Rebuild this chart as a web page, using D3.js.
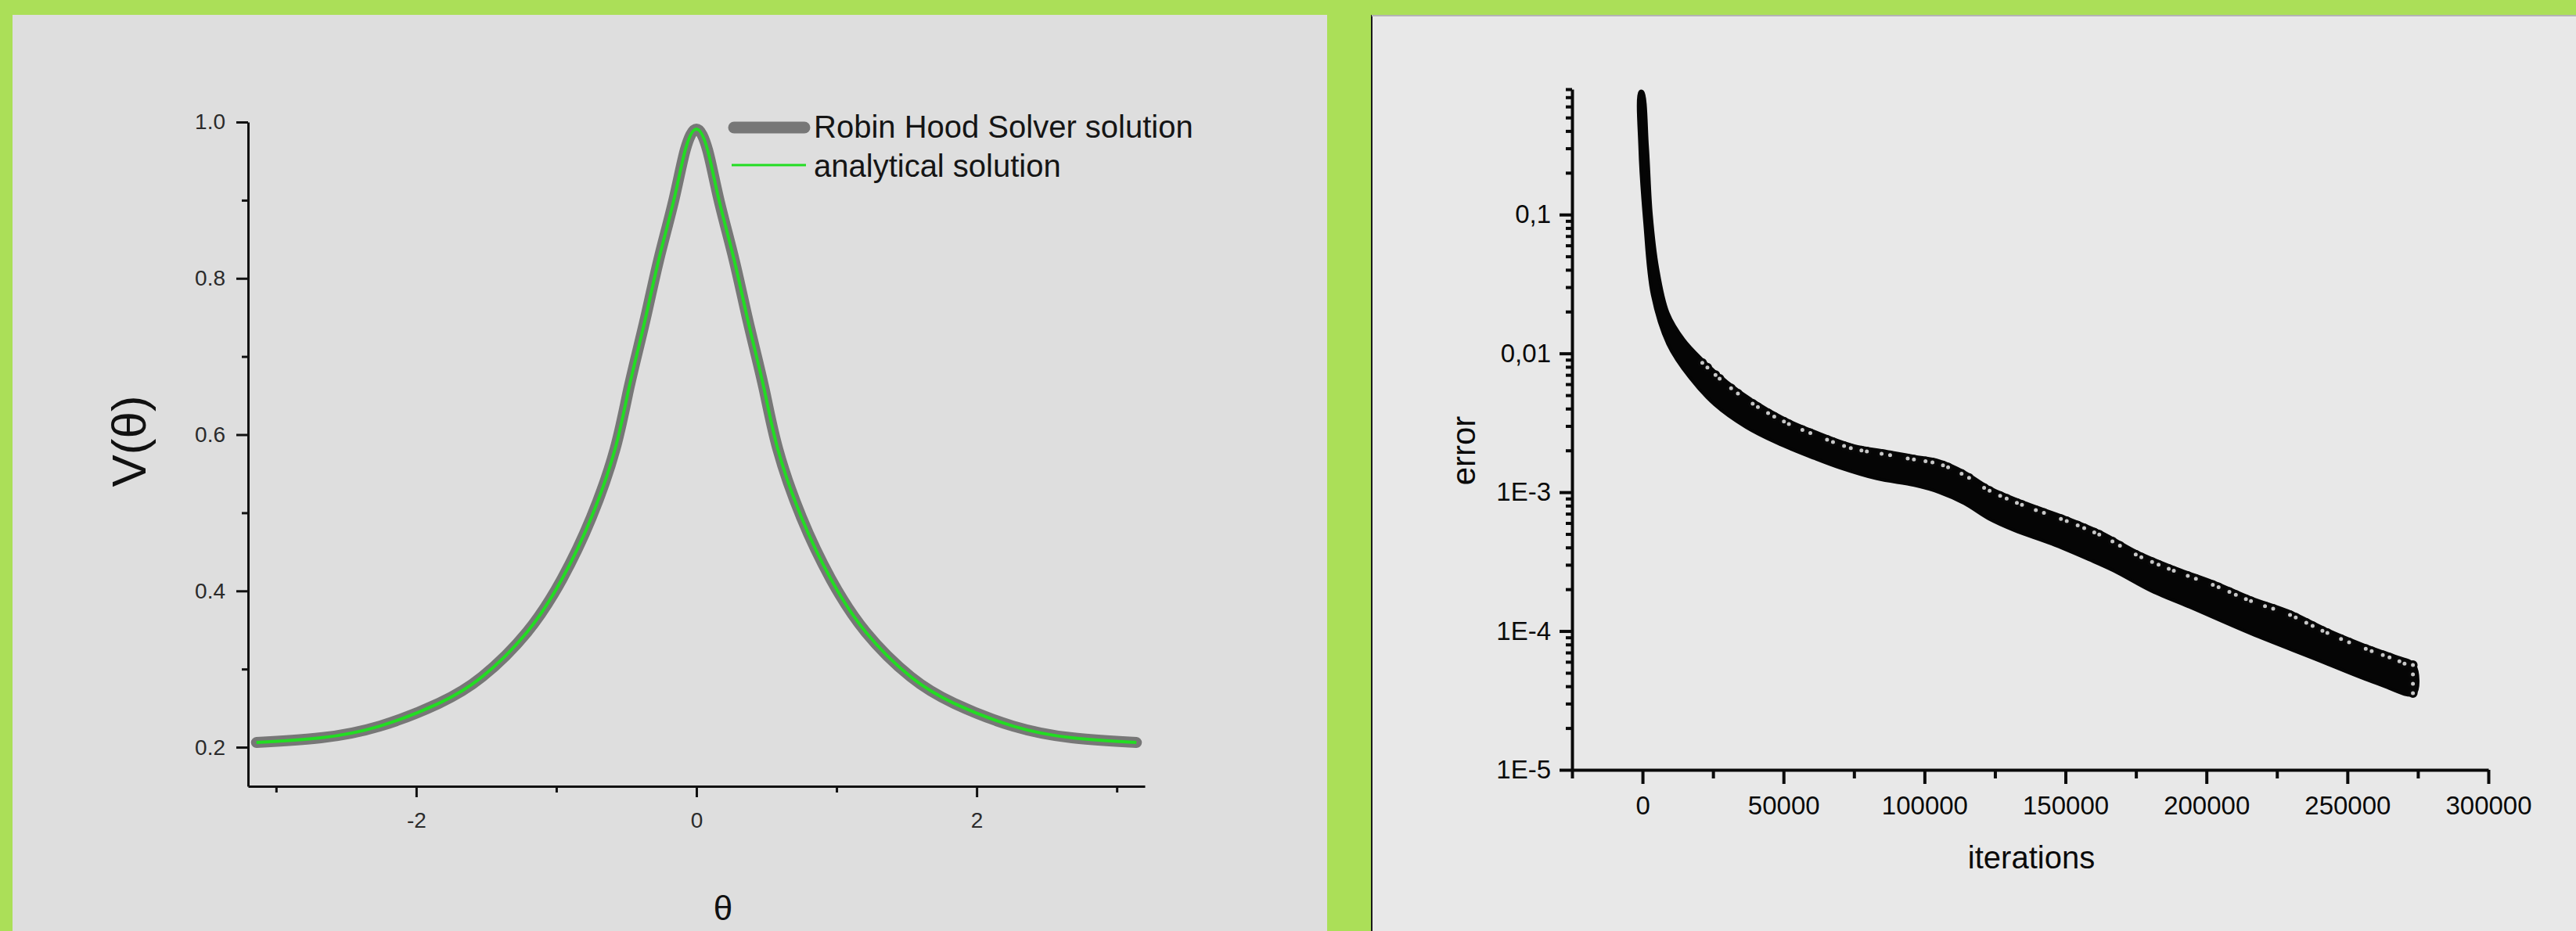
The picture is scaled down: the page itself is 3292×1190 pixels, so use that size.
<!DOCTYPE html>
<html>
<head>
<meta charset="utf-8">
<script src="https://d3js.org/d3.v7.min.js"></script>
<style>
  body { margin: 0; background: #abdf58; }
  svg { display: block; font-family: "Liberation Sans", Arial, sans-serif; }
  .ax-l path, .ax-l line { stroke: #111; stroke-width: 3; }
  .ax-l text { fill: #2b2b2b; font-size: 28px; }
  .ax-r path, .ax-r line { stroke: #0a0a0a; stroke-width: 4; }
  .ax-r text { fill: #0a0a0a; font-size: 33px; }
  .minor path { display: none; }
</style>
</head>
<body>
<script>
// ---- left panel: V(theta) ----
var thetaVals = [-3.14, -2.68, -2.26, -1.84, -1.53, -1.21, -0.96, -0.75, -0.58, -0.48, -0.37, -0.27, -0.16, -0.08,
                 0, 0.08, 0.16, 0.27, 0.37, 0.48, 0.58, 0.75, 0.96, 1.21, 1.53, 1.84, 2.26, 2.68, 3.14];
var solverV = [0.206, 0.212, 0.227, 0.256, 0.290, 0.347, 0.415, 0.494, 0.582, 0.661, 0.744, 0.823, 0.901, 0.964,
               0.991, 0.964, 0.901, 0.823, 0.744, 0.661, 0.582, 0.494, 0.415, 0.347, 0.290, 0.256, 0.227, 0.212, 0.206];
var analyticV = [0.206, 0.212, 0.227, 0.256, 0.290, 0.347, 0.415, 0.494, 0.582, 0.661, 0.744, 0.823, 0.901, 0.964,
                 0.991, 0.964, 0.901, 0.823, 0.744, 0.661, 0.582, 0.494, 0.415, 0.347, 0.290, 0.256, 0.227, 0.212, 0.206];
var thetaMajor = [-2, 0, 2];
var thetaMinor = [-3, -1, 1, 3];
var vMajor = [0.2, 0.4, 0.6, 0.8, 1.0];
var vMinor = [0.3, 0.5, 0.7, 0.9];
var legendNames = ["Robin Hood Solver solution", "analytical solution"];

// ---- right panel: error vs iterations (edges of the point cloud) ----
var iterUpper = [0, 1700, 3050, 5300, 9000, 14600, 21200, 30100, 38900, 50000, 61000, 74300, 87500, 96400,
                 105200, 114100, 123000, 136200, 149500, 162800, 176000, 189300, 202600, 215800, 229100,
                 242400, 255700, 266700, 273800];
var errUpper = [0.766, 0.309, 0.101, 0.0413, 0.0196, 0.01257, 0.0090, 0.0062, 0.0046, 0.00341, 0.00273,
                0.00218, 0.00195, 0.00181, 0.00168, 0.00140, 0.00108, 0.00083, 0.000664, 0.000512, 0.000366,
                0.000282, 0.000225, 0.000173, 0.000139, 0.000103, 0.0000795, 0.0000659, 0.0000569];
var iterLower = [-900, -900, 830, 3500, 9000, 16800, 25600, 36700, 47700, 61000, 69900, 83100, 96400, 105200,
                 114100, 123000, 131800, 145100, 158300, 167200, 180500, 193700, 215800, 238000, 260100, 273800];
var errLower = [0.766, 0.30, 0.087, 0.0265, 0.01167, 0.00667, 0.00427, 0.00294, 0.00226, 0.00175, 0.00150,
                0.00125, 0.00112, 0.000998, 0.00083, 0.00064, 0.000531, 0.000424, 0.000327, 0.000271,
                0.000194, 0.0001497, 0.0000957, 0.0000635, 0.0000422, 0.0000351];
var iterMajor = [0, 50000, 100000, 150000, 200000, 250000, 300000];
var iterMinor = [-25000, 25000, 75000, 125000, 175000, 225000, 275000];
var errMajor = [0.1, 0.01, 1e-3, 1e-4, 1e-5];
var errMajorLabels = ["0,1", "0,01", "1E-3", "1E-4", "1E-5"];

var W = 3292, H = 1190;
var svg = d3.select("body").append("svg").attr("width", W).attr("height", H);

// panels
svg.append("rect").attr("x", 16).attr("y", 19).attr("width", 1680).attr("height", H - 19).attr("fill", "#dedede");
svg.append("rect").attr("x", 1752).attr("y", 19).attr("width", W - 1752).attr("height", H - 19).attr("fill", "#e8e8e8");
svg.append("line").attr("x1", 1753).attr("x2", 1753).attr("y1", 19).attr("y2", H).attr("stroke", "#1a1a1a").attr("stroke-width", 2);
svg.append("line").attr("x1", 1753).attr("x2", W).attr("y1", 20).attr("y2", 20).attr("stroke", "#b4b4b4").attr("stroke-width", 2);

/* left chart */
var xL = d3.scaleLinear().domain([-3.2, 3.2]).range([317, 1463]);
var yL = d3.scaleLinear().domain([0.15, 1.0]).range([1005, 156]);

var gl = svg.append("g");
gl.append("g").attr("class", "ax-l").attr("transform", "translate(0," + yL.range()[0] + ")")
  .call(d3.axisBottom(xL).tickValues(thetaMajor).tickSize(14).tickSizeOuter(0).tickPadding(19).tickFormat(function (d) { return String(d); }));
gl.append("g").attr("class", "ax-l minor").attr("transform", "translate(0," + yL.range()[0] + ")")
  .call(d3.axisBottom(xL).tickValues(thetaMinor).tickSize(8).tickFormat(""));
gl.append("g").attr("class", "ax-l").attr("transform", "translate(" + xL.range()[0] + ",0)")
  .call(d3.axisLeft(yL).tickValues(vMajor).tickSize(15).tickSizeOuter(0).tickPadding(14).tickFormat(d3.format(".1f")));
gl.append("g").attr("class", "ax-l minor").attr("transform", "translate(" + xL.range()[0] + ",0)")
  .call(d3.axisLeft(yL).tickValues(vMinor).tickSize(8).tickFormat(""));

var lineL = d3.line().curve(d3.curveNatural)
  .x(function (d) { return xL(d[0]); }).y(function (d) { return yL(d[1]); });
gl.append("path").datum(d3.zip(thetaVals, solverV)).attr("d", lineL)
  .attr("fill", "none").attr("stroke", "#777").attr("stroke-width", 14).attr("stroke-linecap", "round").attr("stroke-linejoin", "round");
gl.append("path").datum(d3.zip(thetaVals, analyticV)).attr("d", lineL)
  .attr("fill", "none").attr("stroke", "#22dd22").attr("stroke-width", 4);

// legend
var lg = gl.append("g").attr("transform", "translate(930,0)");
lg.append("line").attr("x1", 8).attr("x2", 98).attr("y1", 163).attr("y2", 163)
  .attr("stroke", "#777").attr("stroke-width", 15).attr("stroke-linecap", "round");
lg.append("line").attr("x1", 5).attr("x2", 100).attr("y1", 211).attr("y2", 211)
  .attr("stroke", "#22dd22").attr("stroke-width", 3);
lg.selectAll("text.leg").data(legendNames).enter().append("text").attr("class", "leg")
  .attr("x", 110).attr("y", function (d, i) { return 176 + i * 50; })
  .attr("font-size", 40).attr("fill", "#151515").text(function (d) { return d; });

gl.append("text").attr("transform", "translate(186,564) rotate(-90)").attr("text-anchor", "middle")
  .attr("font-size", 62).attr("fill", "#111").text("V(θ)");
gl.append("text").attr("x", 924).attr("y", 1176).attr("text-anchor", "middle")
  .attr("font-size", 44).attr("fill", "#111").text("θ");

/* right chart */
var xR = d3.scaleLinear().domain([-25000, 300000]).range([2009, 3180]);
var yR = d3.scaleLog().domain([1e-5, 0.8]).range([984, 114]);

var errMinor = [];
[1e-5, 1e-4, 1e-3, 1e-2, 1e-1].forEach(function (p) {
  for (var k = 2; k <= 9; k++) { if (k * p <= 0.8 + 1e-9) errMinor.push(k * p); }
});

var gr = svg.append("g");
gr.append("g").attr("class", "ax-r").attr("transform", "translate(0," + yR.range()[0] + ")")
  .call(d3.axisBottom(xR).tickValues(iterMajor).tickSize(18).tickSizeOuter(0).tickPadding(16).tickFormat(d3.format("d")));
gr.append("g").attr("class", "ax-r minor").attr("transform", "translate(0," + yR.range()[0] + ")")
  .call(d3.axisBottom(xR).tickValues(iterMinor).tickSize(11).tickFormat(""));
gr.append("g").attr("class", "ax-r").attr("transform", "translate(" + xR.range()[0] + ",0)")
  .call(d3.axisLeft(yR).tickValues(errMajor).tickSize(16).tickSizeOuter(0).tickPadding(11)
    .tickFormat(function (d, i) { return errMajorLabels[i]; }));
gr.append("g").attr("class", "ax-r minor").attr("transform", "translate(" + xR.range()[0] + ",0)")
  .call(d3.axisLeft(yR).tickValues(errMinor).tickSize(8).tickFormat(""));
gr.selectAll(".ax-r line").attr("stroke-width", 3);

// point cloud envelope
var upper = d3.zip(iterUpper, errUpper);
var lower = d3.zip(iterLower, errLower);
var cloud = upper.concat(lower.slice().reverse());
gr.append("path").datum(cloud)
  .attr("d", d3.line().curve(d3.curveCatmullRomClosed.alpha(0.5))
    .x(function (d) { return xR(d[0]); }).y(function (d) { return yR(d[1]); }))
  .attr("fill", "#050505").attr("stroke", "#050505").attr("stroke-width", 4).attr("stroke-linejoin", "round");

// open-circle markers along the top edge and the last column
var edgeLine = d3.line().curve(d3.curveCatmullRom.alpha(0.5))
  .x(function (d) { return xR(d[0]); }).y(function (d) { return yR(d[1]); });
var topEdge = upper.slice(6);
var endCol = [upper[upper.length - 1], lower[lower.length - 1]];
var dash = "0 9 0 14 0 7 0 19 0 11 0 23 0 8 0 15";
[[topEdge, "translate(0,4)", dash], [endCol, "translate(-2,0)", "0 12"]].forEach(function (e) {
  gr.append("path").datum(e[0]).attr("d", edgeLine).attr("transform", e[1])
    .attr("fill", "none").attr("stroke", "#080808").attr("stroke-width", 12)
    .attr("stroke-linecap", "round").attr("stroke-dasharray", e[2]);
  gr.append("path").datum(e[0]).attr("d", edgeLine).attr("transform", e[1])
    .attr("fill", "none").attr("stroke", "#c8c8c8").attr("stroke-width", 5)
    .attr("stroke-linecap", "round").attr("stroke-dasharray", e[2]);
});

gr.append("text").attr("transform", "translate(1885,576) rotate(-90)").attr("text-anchor", "middle")
  .attr("font-size", 42).attr("fill", "#0a0a0a").text("error");
gr.append("text").attr("x", 2596).attr("y", 1110).attr("text-anchor", "middle")
  .attr("font-size", 40).attr("fill", "#0a0a0a").text("iterations");
</script>
</body>
</html>
